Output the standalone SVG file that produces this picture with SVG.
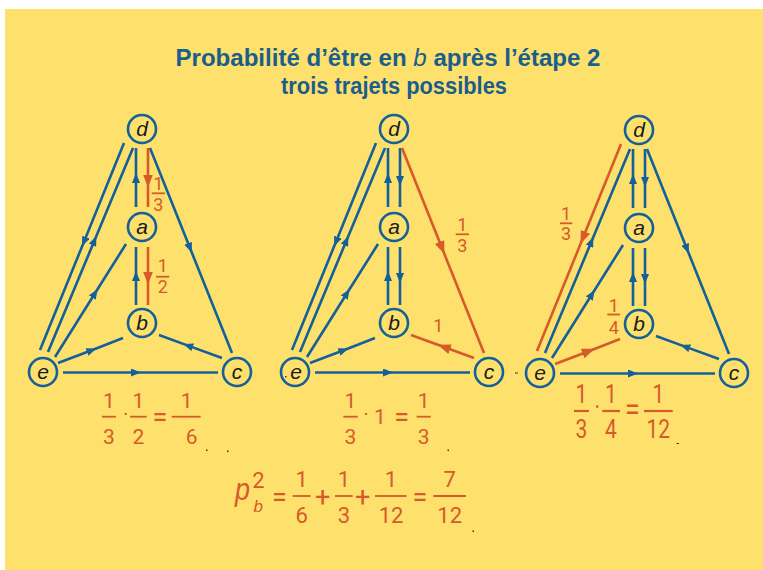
<svg xmlns="http://www.w3.org/2000/svg" width="763" height="570" viewBox="0 0 763 570">
<defs>
<style>
.bg{fill:#FEE06C}
.nd circle{fill:#FEE06C;stroke:#13609A;stroke-width:2.6}
.nd text{font-family:"Liberation Sans",Arial,sans-serif;font-style:italic;font-size:21px;fill:#1a1a1a;text-anchor:middle}
.b{fill:none;stroke:#13609A;stroke-width:2.6;marker-mid:url(#ab)}
.o{fill:none;stroke:#D65A2A;stroke-width:2.6;marker-mid:url(#ao)}
.ttl{font-family:"Liberation Sans",Arial,sans-serif;font-weight:bold;font-size:23px;fill:#1A5E8C;text-anchor:middle}
.lb{font-family:Roboto,"Liberation Sans",sans-serif;font-size:18px;fill:#D65A2A;text-anchor:middle}
.eq{font-family:Roboto,"Liberation Sans",sans-serif;font-size:21px;fill:#D65A2A;text-anchor:middle}
.eq2{font-family:Roboto,"Liberation Sans",sans-serif;font-size:22px;fill:#D65A2A;text-anchor:middle}
.op{font-family:Roboto,"Liberation Sans",sans-serif;font-size:27px;fill:#D65A2A;text-anchor:middle}
.it{font-family:"Liberation Sans",Arial,sans-serif;font-style:italic;fill:#D65A2A}
.bar{stroke:#D65A2A;stroke-width:1.8}
.st{fill:#333}
</style>
<marker id="ab" viewBox="0 0 10 8" refX="5" refY="4" markerWidth="10" markerHeight="8" markerUnits="userSpaceOnUse" orient="auto"><path d="M0,0 L10,4 L0,8 z" fill="#13609A"/></marker>
<marker id="ao" viewBox="0 0 13 10" refX="6.5" refY="5" markerWidth="13" markerHeight="10" markerUnits="userSpaceOnUse" orient="auto"><path d="M0,0 L13,5 L0,10 z" fill="#D65A2A"/></marker>
</defs>
<rect class="bg" x="5" y="9" width="758" height="561"/>
<g id="title">
<text class="ttl" x="388" y="66" textLength="425" lengthAdjust="spacingAndGlyphs">Probabilité d’être en <tspan font-style="italic" font-weight="normal">b</tspan> après l’étape 2</text>
<text class="ttl" x="394" y="93.5" textLength="226" lengthAdjust="spacingAndGlyphs">trois trajets possibles</text>
</g>
<g id="connectors">
<g id="conn1">
<polyline class="b" points="136,207 136,178 136,148"/>
<polyline class="o" points="148,148 148,181 148,207"/>
<polyline class="b" points="136,305 136,276 136,247"/>
<polyline class="o" points="148,247 148,278 148,305"/>
<polyline class="b" points="124,143 84,241.7 40,350"/>
<polyline class="b" points="48,352 94.4,240.7 133,148"/>
<polyline class="b" points="55,357 95,293.3 126,244"/>
<polyline class="b" points="58,363 91.7,350.2 123,338"/>
<polyline class="b" points="63,372.5 136,372.5 218,372.5"/>
<polyline class="b" points="150,148 190,248 232,353"/>
<polyline class="b" points="222,358 188,345.6 159,335"/>
</g>
<g id="conn2" transform="translate(252,0)">
<polyline class="b" points="136,207 136,178 136,148"/>
<polyline class="b" points="148,148 148,181 148,207"/>
<polyline class="b" points="136,305 136,276 136,247"/>
<polyline class="b" points="148,247 148,278 148,305"/>
<polyline class="b" points="124,143 84,241.7 40,350"/>
<polyline class="b" points="48,352 94.4,240.7 133,148"/>
<polyline class="b" points="55,357 95,293.3 126,244"/>
<polyline class="b" points="58,363 91.7,350.2 123,338"/>
<polyline class="b" points="63,372.5 136,372.5 218,372.5"/>
<polyline class="o" points="150,148 190,248 232,353"/>
<polyline class="o" points="222,358 192,347 159,335"/>
</g>
<g id="conn3" transform="translate(497,1)">
<polyline class="b" points="136,207 136,178 136,148"/>
<polyline class="b" points="148,148 148,181 148,207"/>
<polyline class="b" points="136,305 136,276 136,247"/>
<polyline class="b" points="148,247 148,278 148,305"/>
<polyline class="o" points="124,143 86,236.8 40,350"/>
<polyline class="b" points="48,352 94.4,240.7 133,148"/>
<polyline class="b" points="55,357 95,293.3 126,244"/>
<polyline class="o" points="58,363 91.7,350.2 123,338"/>
<polyline class="b" points="63,372.5 136,372.5 218,372.5"/>
<polyline class="b" points="150,148 190,248 232,353"/>
<polyline class="b" points="222,358 188,345.6 159,335"/>
</g>
</g>
<g id="d1" class="nd"><circle cx="142" cy="129" r="14"/><text x="142" y="136">d</text></g>
<g id="a1" class="nd"><circle cx="142" cy="227" r="14"/><text x="142" y="234">a</text></g>
<g id="b1" class="nd"><circle cx="142" cy="323" r="14"/><text x="142" y="330">b</text></g>
<g id="e1" class="nd"><circle cx="43" cy="372" r="14"/><text x="43" y="379">e</text></g>
<g id="c1" class="nd"><circle cx="237" cy="372" r="14"/><text x="237" y="379">c</text></g>
<g id="d2" class="nd"><circle cx="394" cy="129" r="14"/><text x="394" y="136">d</text></g>
<g id="a2" class="nd"><circle cx="394" cy="227" r="14"/><text x="394" y="234">a</text></g>
<g id="b2" class="nd"><circle cx="394" cy="323" r="14"/><text x="394" y="330">b</text></g>
<g id="e2" class="nd"><circle cx="295" cy="372" r="14"/><text x="296" y="379">e</text></g>
<g id="c2" class="nd"><circle cx="489" cy="372" r="14"/><text x="489" y="379">c</text></g>
<g id="d3" class="nd"><circle cx="639" cy="130" r="14"/><text x="639" y="137">d</text></g>
<g id="a3" class="nd"><circle cx="639" cy="228" r="14"/><text x="639" y="235">a</text></g>
<g id="b3" class="nd"><circle cx="639" cy="324" r="14"/><text x="639" y="331">b</text></g>
<g id="e3" class="nd"><circle cx="540" cy="373" r="14"/><text x="540" y="380">e</text></g>
<g id="c3" class="nd"><circle cx="734" cy="373" r="14"/><text x="734" y="380">c</text></g>
<g id="labels">
<text class="lb" x="158.3" y="190">1</text><line class="bar" x1="151.7" y1="193.3" x2="165" y2="193.3"/><text class="lb" x="158.3" y="210.7">3</text>
<text class="lb" x="162.7" y="272">1</text><line class="bar" x1="156" y1="276.7" x2="169.3" y2="276.7"/><text class="lb" x="162.7" y="293.3">2</text>
<text class="lb" x="462.3" y="231">1</text><line class="bar" x1="455.7" y1="234.3" x2="469" y2="234.3"/><text class="lb" x="462.3" y="251.7">3</text>
<text class="lb" x="438.3" y="331.7">1</text>
<text class="lb" x="566" y="220">1</text><line class="bar" x1="560" y1="223.3" x2="572.3" y2="223.3"/><text class="lb" x="566" y="240">3</text>
<text class="lb" x="613.7" y="311.5">1</text><line class="bar" x1="607.3" y1="314.5" x2="620" y2="314.5"/><text class="lb" x="613.7" y="334">4</text>
</g>
<g id="eq1">
<text class="eq" x="109" y="408">1</text><line class="bar" x1="102" y1="416.7" x2="116" y2="416.7"/><text class="eq" x="109" y="444">3</text>
<text class="eq" x="125.7" y="421">·</text>
<text class="eq" x="138.3" y="408">1</text><line class="bar" x1="130" y1="416.7" x2="146.7" y2="416.7"/><text class="eq" x="138.3" y="444">2</text>
<text class="op" x="160" y="425.5">=</text>
<text class="eq" x="186.7" y="408">1</text><line class="bar" x1="171.7" y1="416.7" x2="200.7" y2="416.7"/><text class="eq" x="191.7" y="444">6</text>
</g>
<g id="eq2">
<text class="eq" x="350.5" y="408">1</text><line class="bar" x1="343.3" y1="416.7" x2="357.7" y2="416.7"/><text class="eq" x="350.5" y="444">3</text>
<text class="eq" x="366" y="421">·</text>
<text class="eq" x="380" y="424">1</text>
<text class="op" x="401.7" y="425.5">=</text>
<text class="eq" x="423.7" y="408">1</text><line class="bar" x1="416.7" y1="416.7" x2="430.7" y2="416.7"/><text class="eq" x="423.7" y="444">3</text>
</g>
<g id="eq3" transform="translate(0,411) scale(1,1.22) translate(0,-411)">
<text class="eq" x="581.5" y="404.7">1</text><line class="bar" x1="574" y1="411" x2="589" y2="411"/><text class="eq" x="581.5" y="433.4">3</text>
<text class="eq" x="597.3" y="415.5">·</text>
<text class="eq" x="611" y="404.7">1</text><line class="bar" x1="602.3" y1="411" x2="620" y2="411"/><text class="eq" x="611" y="433.4">4</text>
<text class="op" x="632.3" y="419.5">=</text>
<text class="eq" x="658.3" y="404.7">1</text><line class="bar" x1="644" y1="411" x2="672.7" y2="411"/><text class="eq" x="658.3" y="433.4">12</text>
</g>
<g id="eqsum">
<text class="it" x="235" y="500" font-size="31" textLength="15" lengthAdjust="spacingAndGlyphs">p</text>
<text class="eq2" x="258.5" y="488.3" font-size="16">2</text>
<text class="it" x="253.5" y="511.7" font-size="17">b</text>
<text class="op" x="279.3" y="506">=</text>
<text class="eq2" x="301.7" y="486.7">1</text><line class="bar" x1="292.7" y1="496" x2="310.7" y2="496"/><text class="eq2" x="301.7" y="523.3">6</text>
<text class="op" x="322.7" y="505.5">+</text>
<text class="eq2" x="344" y="486.7">1</text><line class="bar" x1="335" y1="496" x2="352.7" y2="496"/><text class="eq2" x="344" y="523.3">3</text>
<text class="op" x="362.7" y="505.5">+</text>
<text class="eq2" x="391" y="486.7">1</text><line class="bar" x1="375" y1="496" x2="406.7" y2="496"/><text class="eq2" x="391" y="523.3">12</text>
<text class="op" x="420" y="506">=</text>
<text class="eq2" x="449.7" y="486.7">7</text><line class="bar" x1="433.3" y1="496" x2="466" y2="496"/><text class="eq2" x="449.7" y="523.3">12</text>
</g>
<g id="specks">
<rect class="st" x="206" y="449.5" width="1.5" height="1.5"/>
<rect class="st" x="227" y="450.5" width="1.5" height="1.5"/>
<rect class="st" x="447.5" y="449.5" width="1.5" height="1.5"/>
<rect class="st" x="676.5" y="443" width="2.5" height="1"/>
<rect class="st" x="472.5" y="530.5" width="1.5" height="1.5"/>
<rect class="st" x="515" y="372.5" width="3" height="1"/>
<rect class="st" x="285" y="376" width="1.5" height="1.5"/>
</g>
</svg>
